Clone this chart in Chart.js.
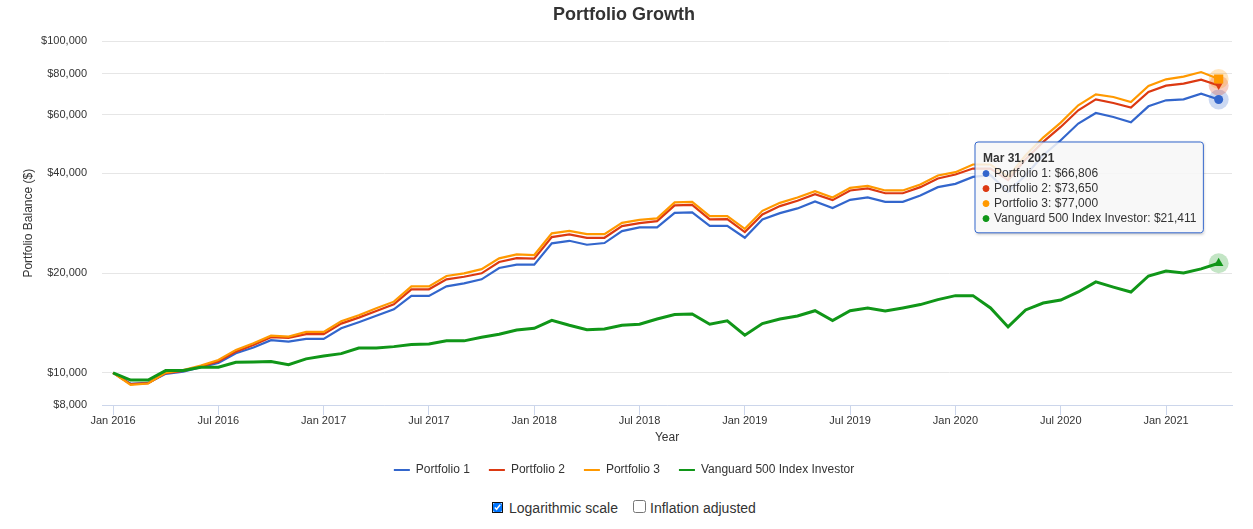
<!DOCTYPE html>
<html>
<head>
<meta charset="utf-8">
<title>Portfolio Growth</title>
<script src="https://cdn.jsdelivr.net/npm/chart.js@4"></script>
<style>
html, body { margin: 0; padding: 0; background: #fff; overflow: hidden; }
body { width: 1253px; height: 529px; position: relative; font-family: "Liberation Sans", Arial, sans-serif; }
canvas { position: absolute; left: 0; top: 0; }
.opt { position: absolute; top: 500px; font-size: 14px; line-height: 17px; color: #333; white-space: nowrap; }
.box { position: absolute; margin: 0; }
#logScale { left: 493px; top: 503px; width: 9px; height: 9px; outline: 1.5px solid #111; border-radius: 2px; }
#inflation { left: 633px; top: 500px; width: 13px; height: 13px; }
</style>
</head>
<body>
<canvas id="growthChart" width="1253" height="486"></canvas>
<input class="box" type="checkbox" id="logScale" checked>
<label class="opt" for="logScale" style="left:509px">Logarithmic scale</label>
<input class="box" type="checkbox" id="inflation">
<label class="opt" for="inflation" style="left:650px">Inflation adjusted</label>
<script>
// one value per month end, first one is the start balance on Jan 1 2016
const portfolio1 = [10000, 9270, 9330, 9930, 10090, 10400, 10720, 11460, 11920, 12550, 12430, 12660, 12660, 13630, 14220, 14880,
    15550, 17070, 17070, 18240, 18630, 19150, 20720, 21200, 21200, 24590, 25030, 24350, 24640, 26770, 27470, 27470,
    30400, 30480, 27780, 27780, 25560, 29040, 30330, 31340, 32890, 31410, 33270, 33820, 32810, 32810, 34300, 36330,
    37170, 39020, 39480, 35170, 39480, 45360, 50330, 56510, 60820, 59160, 57020, 63700, 66420, 66880, 69580, 66806];
const portfolio2 = [10000, 9250, 9310, 9980, 10140, 10450, 10820, 11590, 12140, 12810, 12750, 13080, 13080, 14080, 14680, 15380,
    16110, 17870, 17870, 19150, 19500, 19970, 21600, 22200, 22100, 25690, 26170, 25560, 25560, 27720, 28300, 28700,
    32000, 32140, 29040, 29100, 26590, 30060, 31850, 33040, 34610, 33200, 35510, 36000, 34830, 34830, 36330, 38590,
    39680, 41350, 41350, 38140, 44120, 49740, 55200, 61970, 66880, 65180, 63150, 70360, 73540, 74580, 76670, 73650];
const portfolio3 = [10000, 9200, 9290, 10020, 10190, 10520, 10940, 11730, 12290, 12950, 12870, 13290, 13290, 14310, 14920, 15670,
    16400, 18240, 18240, 19600, 19970, 20550, 22150, 22770, 22670, 26350, 26830, 26220, 26220, 28360, 28960, 29240,
    32670, 32810, 29710, 29710, 27200, 30820, 32580, 33820, 35330, 33820, 36150, 36660, 35510, 35510, 37010, 39400,
    40310, 42520, 42520, 39020, 45360, 51280, 56900, 64150, 69230, 67950, 65640, 73350, 76830, 78300, 80830, 77000];
const vanguard = [10000, 9510, 9510, 10160, 10160, 10400, 10400, 10770, 10790, 10820, 10590, 11020, 11250, 11430, 11890, 11890,
    12000, 12170, 12230, 12490, 12490, 12810, 13080, 13470, 13630, 14410, 13920, 13500, 13570, 13920, 14020, 14540,
    14990, 15060, 14020, 14350, 12990, 14080, 14540, 14850, 15400, 14380, 15400, 15700, 15380, 15700, 16070, 16630,
    17100, 17100, 15700, 13760, 15480, 16250, 16590, 17540, 18810, 18150, 17540, 19600, 20290, 20010, 20590, 21411];

const seriesNames = ['Portfolio 1', 'Portfolio 2', 'Portfolio 3', 'Vanguard 500 Index Investor'];
const seriesColors = ['#3366cc', '#dc3912', '#ff9900', '#109618'];
const yTicks = [8000, 10000, 20000, 40000, 60000, 80000, 100000];
const xTickIndex = [0, 6, 12, 18, 24, 30, 36, 42, 48, 54, 60];
const xTickLabels = ['Jan 2016', 'Jul 2016', 'Jan 2017', 'Jul 2017', 'Jan 2018', 'Jul 2018', 'Jan 2019', 'Jul 2019', 'Jan 2020', 'Jul 2020', 'Jan 2021'];
const tooltipDate = 'Mar 31, 2021';

const FONT = '"Liberation Sans", Arial, sans-serif';
const LAST = portfolio1.length - 1;

function money(v) {
    return '$' + Math.round(v).toLocaleString('en-US');
}

function makeDataset(values, i, style, rotation, radius, lineWidth) {
    return {
        label: seriesNames[i],
        data: values.map((v, k) => ({ x: k, y: v })),
        borderColor: seriesColors[i],
        backgroundColor: seriesColors[i],
        borderWidth: lineWidth,
        order: 4 - i,
        tension: 0,
        pointStyle: style,
        rotation: rotation,
        pointBorderWidth: 0,
        pointRadius: ctx => (ctx.dataIndex === LAST ? radius : 0),
        pointHoverRadius: ctx => (ctx.dataIndex === LAST ? radius : 0)
    };
}

const haloPlugin = {
    id: 'halo',
    // pale ring behind the hovered markers
    beforeDatasetsDraw(chart) {
        const ctx = chart.ctx;
        chart.data.datasets.forEach((ds, i) => {
            const pt = chart.getDatasetMeta(i).data[LAST];
            ctx.save();
            ctx.globalAlpha = 0.25;
            ctx.fillStyle = ds.borderColor;
            ctx.beginPath();
            ctx.arc(pt.x, pt.y, 10, 0, Math.PI * 2);
            ctx.fill();
            ctx.restore();
        });
    },
    // shadow only outside the box, so the box itself stays light
    beforeTooltipDraw(chart, args) {
        const t = args.tooltip;
        const ctx = chart.ctx;
        ctx.save();
        ctx.beginPath();
        ctx.rect(0, 0, chart.width, chart.height);
        ctx.rect(t.x, t.y, t.width, t.height);
        ctx.clip('evenodd');
        ctx.shadowColor = 'rgba(0,0,0,0.3)';
        ctx.shadowBlur = 3;
        ctx.shadowOffsetX = 1;
        ctx.shadowOffsetY = 1;
        ctx.fillStyle = '#fff';
        ctx.fillRect(t.x, t.y, t.width, t.height);
        ctx.restore();
    }
};

Chart.Tooltip.positioners.fixedBox = function () {
    return { x: 978, y: 142 };
};

const chart = new Chart(document.getElementById('growthChart'), {
    type: 'line',
    data: {
        datasets: [
            makeDataset(portfolio1, 0, 'circle', 0, 4.5, 2.2),
            makeDataset(portfolio2, 1, 'triangle', 180, 4.5, 2.2),
            makeDataset(portfolio3, 2, 'rect', 0, 6.5, 2.2),
            makeDataset(vanguard, 3, 'triangle', 0, 5.5, 3)
        ]
    },
    plugins: [haloPlugin],
    options: {
        responsive: false,
        animation: false,
        events: [],
        layout: { padding: { top: 0, right: 21, bottom: 0, left: 16 } },
        scales: {
            x: {
                type: 'linear',
                min: -0.63,
                max: 63.76,
                afterBuildTicks: scale => { scale.ticks = xTickIndex.map(v => ({ value: v })); },
                afterFit: scale => { scale.height = 40; },
                border: { color: '#ccd6eb', width: 1 },
                grid: { drawOnChartArea: false, drawTicks: true, tickLength: 10, tickColor: '#ccd6eb' },
                ticks: {
                    autoSkip: false,
                    maxRotation: 0,
                    padding: -1,
                    color: '#333',
                    font: { family: FONT, size: 11 },
                    callback: v => xTickLabels[xTickIndex.indexOf(v)]
                },
                title: { display: true, text: 'Year', color: '#333', font: { family: FONT, size: 12 }, padding: { top: 3, bottom: 0 } }
            },
            y: {
                type: 'logarithmic',
                min: 8000,
                max: 100000,
                afterBuildTicks: scale => { scale.ticks = yTicks.map(v => ({ value: v })); },
                afterFit: scale => { scale.width = 86; },
                border: { display: false },
                grid: { color: '#e6e6e6', lineWidth: 1, drawTicks: false },
                ticks: {
                    padding: 15,
                    color: '#333',
                    font: { family: FONT, size: 11 },
                    callback: v => money(v)
                },
                title: { display: true, text: 'Portfolio Balance ($)', color: '#333', font: { family: FONT, size: 12 }, padding: { top: 5, bottom: 0 } }
            }
        },
        plugins: {
            title: {
                display: true,
                text: 'Portfolio Growth',
                color: '#333',
                font: { family: FONT, size: 18, weight: 'bold' },
                padding: { top: 4, bottom: 15.8 }
            },
            legend: {
                position: 'bottom',
                labels: {
                    boxWidth: 16,
                    boxHeight: 2,
                    padding: 19,
                    color: '#333',
                    font: { family: FONT, size: 12 },
                    sort: (a, b) => a.datasetIndex - b.datasetIndex,
                    generateLabels: chart => Chart.defaults.plugins.legend.labels.generateLabels(chart)
                        .map(item => Object.assign(item, { lineWidth: 0 }))
                }
            },
            tooltip: {
                position: 'fixedBox',
                xAlign: 'left',
                yAlign: 'top',
                caretSize: 0,
                caretPadding: 0,
                cornerRadius: 3,
                padding: { top: 9, bottom: 7, left: 8, right: 7 },
                backgroundColor: 'rgba(247,247,247,0.85)',
                borderColor: '#3366cc',
                borderWidth: 1,
                titleColor: '#333',
                bodyColor: '#333',
                titleFont: { family: FONT, size: 12, weight: 'bold' },
                bodyFont: { family: FONT, size: 12 },
                titleMarginBottom: 1,
                titleSpacing: 0,
                bodySpacing: 0.6,
                boxWidth: 6,
                boxHeight: 6,
                boxPadding: 3,
                usePointStyle: true,
                callbacks: {
                    title: () => tooltipDate,
                    label: item => item.dataset.label + ': ' + money(item.parsed.y),
                    labelPointStyle: () => ({ pointStyle: 'circle', rotation: 0 }),
                    labelColor: item => ({ borderColor: item.dataset.borderColor, backgroundColor: item.dataset.borderColor })
                }
            }
        }
    }
});

chart.tooltip.setActiveElements(seriesNames.map((n, i) => ({ datasetIndex: i, index: LAST })), { x: 0, y: 0 });
chart.update();
</script>
</body>
</html>
